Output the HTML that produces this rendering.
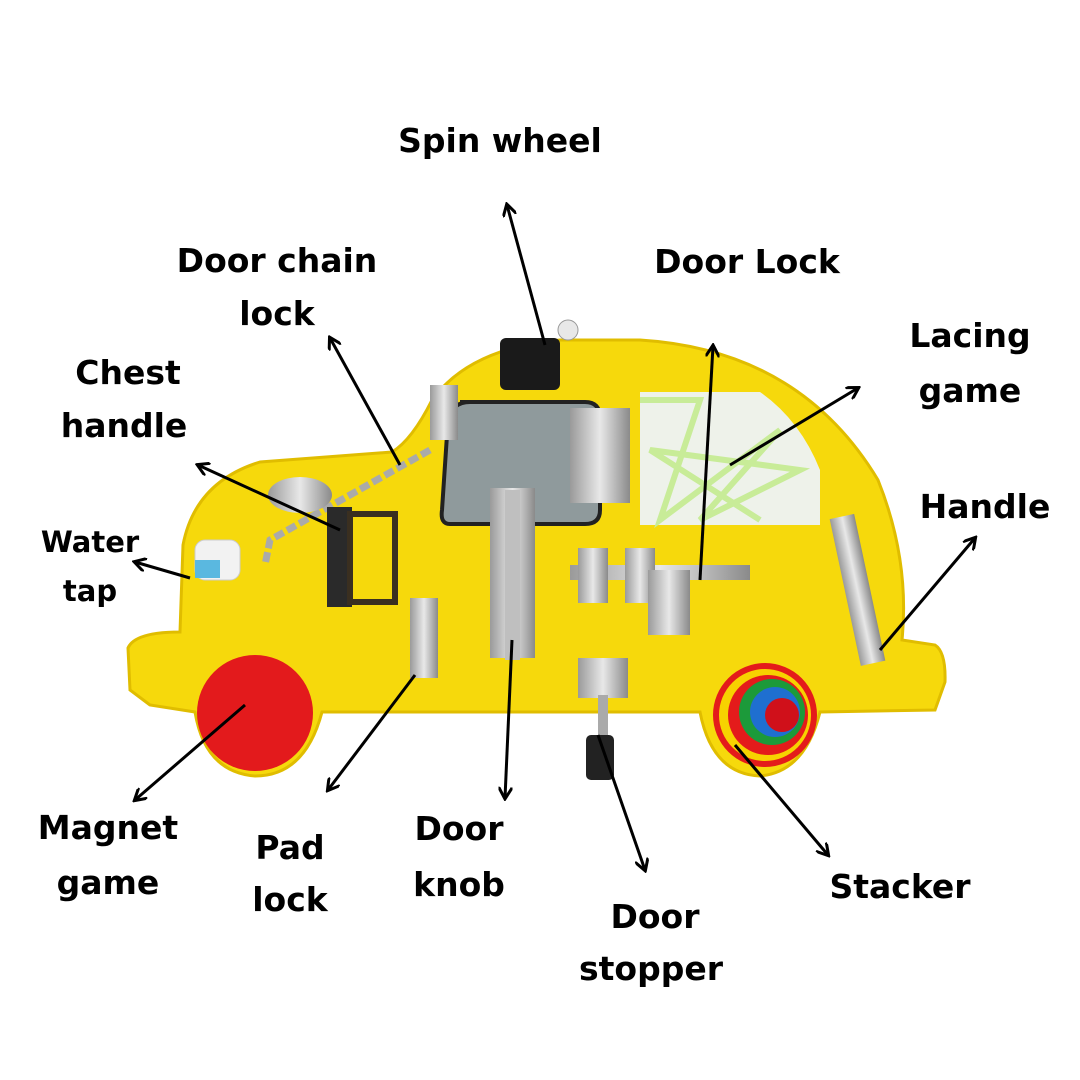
<!DOCTYPE html>
<html><head><meta charset="utf-8"><style>
html,body{margin:0;padding:0;background:#fff}
svg{display:block}
text{font-family:"DejaVu Sans","Liberation Sans",sans-serif;font-weight:bold;font-size:33px;fill:#000;text-anchor:middle}
</style></head><body>
<svg width="1080" height="1080" viewBox="0 0 1080 1080">
<defs>
<marker id="a" markerWidth="14" markerHeight="14" refX="11" refY="7" orient="auto" markerUnits="userSpaceOnUse">
<path d="M0,0 L12,7 L0,14" fill="none" stroke="#000" stroke-width="3"/></marker>
<linearGradient id="m" x1="0" x2="1"><stop offset="0" stop-color="#9a9a9a"/><stop offset=".5" stop-color="#e8e8e8"/><stop offset="1" stop-color="#8a8a8a"/></linearGradient>
</defs>
<rect width="1080" height="1080" fill="#fff"/>
<path d="M150,705 L130,690 L128,648 Q135,632 180,632 L183,545 Q195,482 260,462 L392,452 Q412,440 432,400 Q470,348 560,340 L640,340 Q800,350 878,480 Q910,560 902,640 L935,645 Q946,652 945,682 L935,710 L820,712 Q805,772 760,776 Q712,774 700,712 L322,712 Q305,776 255,776 Q205,772 195,712 Z" fill="#f6d90c" stroke="#e0bd00" stroke-width="3"/>
<path d="M460,402 L585,402 Q600,402 600,418 L600,510 Q600,524 585,524 L450,524 Q440,524 442,510 L448,420 Q452,402 470,402 Z" fill="#8f9a9c" stroke="#222" stroke-width="4"/>
<path d="M640,392 L760,392 Q800,420 820,470 L820,525 L640,525 Z" fill="#eef2ea"/>
<path d="M640,400 L700,400 L660,520 L780,430 L700,520 L800,470 L650,450 L760,520" fill="none" stroke="#c8ec98" stroke-width="6"/>
<rect x="500" y="338" width="60" height="52" rx="6" fill="#1a1a1a"/>
<circle cx="568" cy="330" r="10" fill="#e8e8e8" stroke="#999"/>
<rect x="430" y="385" width="28" height="55" fill="url(#m)"/>
<path d="M430,450 L270,540 L265,565" fill="none" stroke="#aaa" stroke-width="7" stroke-dasharray="10 4"/>
<ellipse cx="300" cy="495" rx="32" ry="18" fill="url(#m)"/>
<rect x="327" y="507" width="25" height="100" fill="#2a2a2a"/>
<rect x="350" y="514" width="45" height="88" fill="none" stroke="#3a2f20" stroke-width="6"/>
<rect x="195" y="540" width="45" height="40" rx="10" fill="#f2f2f2" stroke="#ccc"/>
<rect x="195" y="560" width="25" height="18" fill="#5ab8e0"/>
<rect x="410" y="598" width="28" height="80" fill="url(#m)"/>
<rect x="490" y="488" width="45" height="170" fill="url(#m)"/>
<rect x="505" y="490" width="15" height="170" fill="#bfbfbf"/>
<rect x="570" y="408" width="60" height="95" fill="url(#m)"/>
<rect x="570" y="565" width="180" height="15" fill="url(#m)"/>
<rect x="578" y="548" width="30" height="55" fill="url(#m)"/>
<rect x="625" y="548" width="30" height="55" fill="url(#m)"/>
<rect x="648" y="570" width="42" height="65" fill="url(#m)"/>
<rect x="845" y="515" width="25" height="150" fill="url(#m)" transform="rotate(-12 857 590)"/>
<rect x="578" y="658" width="50" height="40" fill="url(#m)"/>
<rect x="598" y="695" width="10" height="45" fill="#aaa"/>
<rect x="586" y="735" width="28" height="45" rx="5" fill="#222"/>
<circle cx="255" cy="713" r="58" fill="#e31a1c"/>
<circle cx="765" cy="715" r="52" fill="#e41b1b"/>
<circle cx="765" cy="715" r="46" fill="#f7d200"/>
<circle cx="768" cy="715" r="40" fill="#e41b1b"/>
<circle cx="772" cy="712" r="33" fill="#1c9a3a"/>
<circle cx="775" cy="712" r="25" fill="#1f6fd0"/>
<circle cx="782" cy="715" r="17" fill="#d0101a"/>
<g stroke="#000" stroke-width="3" marker-end="url(#a)">
<line x1="545" y1="345" x2="507" y2="205"/>
<line x1="400" y1="465" x2="330" y2="338"/>
<line x1="340" y1="530" x2="198" y2="465"/>
<line x1="190" y1="578" x2="135" y2="562"/>
<line x1="245" y1="705" x2="135" y2="800"/>
<line x1="415" y1="675" x2="328" y2="790"/>
<line x1="512" y1="640" x2="505" y2="798"/>
<line x1="598" y1="735" x2="645" y2="870"/>
<line x1="735" y1="745" x2="828" y2="855"/>
<line x1="880" y1="650" x2="975" y2="538"/>
<line x1="730" y1="465" x2="858" y2="388"/>
<line x1="700" y1="580" x2="713" y2="346"/>
</g>
<text x="500" y="152">Spin wheel</text>
<text x="277" y="272">Door chain</text>
<text x="277" y="325">lock</text>
<text x="747" y="273">Door Lock</text>
<text x="970" y="347">Lacing</text>
<text x="970" y="402">game</text>
<text x="128" y="384">Chest</text>
<text x="124" y="437">handle</text>
<text x="985" y="518">Handle</text>
<text x="90" y="552" style="font-size:29px">Water</text>
<text x="90" y="601" style="font-size:29px">tap</text>
<text x="108" y="839">Magnet</text>
<text x="108" y="894">game</text>
<text x="290" y="859">Pad</text>
<text x="290" y="911">lock</text>
<text x="459" y="840">Door</text>
<text x="459" y="896">knob</text>
<text x="655" y="928">Door</text>
<text x="651" y="980">stopper</text>
<text x="900" y="898">Stacker</text>
</svg>
</body></html>
